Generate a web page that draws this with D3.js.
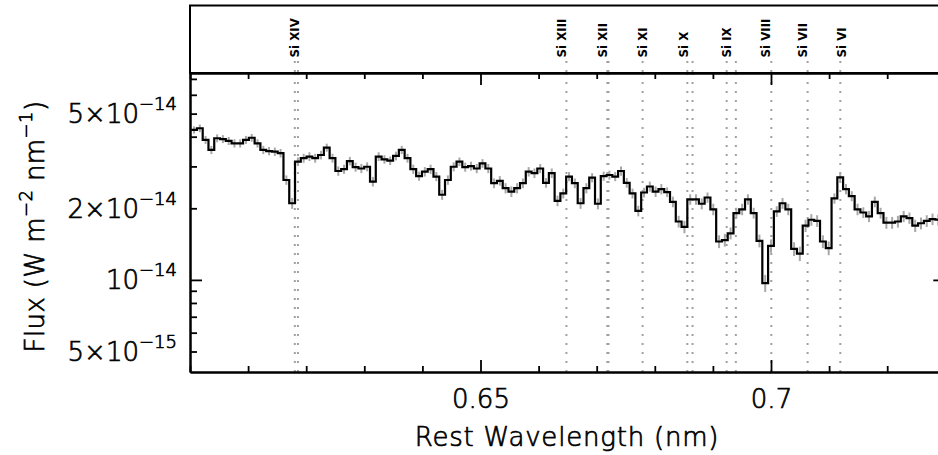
<!DOCTYPE html>
<html><head><meta charset="utf-8">
<script src="https://cdn.jsdelivr.net/npm/d3@7"></script>
<style>
body{margin:0;background:#fff}
svg{display:block}
.ax text, text.ttl{font-family:"DejaVu Sans",sans-serif;font-weight:200;fill:#000;stroke:#000;stroke-width:0.7px}
</style>
</head><body>
<svg id="c" width="938" height="455"></svg>
<script>
// ---------------- data ----------------
// binned spectrum: flux per bin, units of 1e-14 W m^-2 nm^-1
const binStart = 0.6002;      // nm, lower edge of first bin
const binWidth = 0.000993;    // nm
const flux = [
 4.27,4.34,3.88,3.52,3.94,3.91,3.84,3.75,3.75,3.88,
 3.96,3.75,3.52,3.48,3.46,3.41,2.63,2.10,3.14,3.25,
 3.30,3.25,3.35,3.60,3.25,2.87,2.92,3.16,2.98,2.94,
 2.99,2.59,3.30,3.21,3.17,3.32,3.52,3.25,2.92,2.73,
 2.85,2.92,2.72,2.28,2.63,2.99,3.14,2.98,3.01,2.94,
 3.09,2.94,2.55,2.61,2.43,2.35,2.43,2.55,2.85,2.81,
 2.94,2.56,2.81,2.15,2.31,2.72,2.55,2.10,2.43,2.69,
 2.09,2.73,2.76,2.72,2.87,2.56,2.31,1.95,2.33,2.47,
 2.35,2.41,2.34,2.13,1.76,1.67,2.18,2.18,2.09,2.22,
 1.98,1.45,1.47,1.57,1.91,1.98,2.18,1.91,1.46,0.97,
 1.39,1.94,2.10,1.98,1.35,1.29,1.69,1.79,1.77,1.45,
 1.36,2.20,2.70,2.41,2.25,1.98,1.92,1.85,2.13,1.91,
 1.74,1.74,1.76,1.85,1.82,1.69,1.73,1.77,1.80,1.79,
 1.62
];
const fluxErr = [
 0.15,0.16,0.15,0.14,0.15,0.15,0.15,0.15,0.15,0.15,
 0.15,0.15,0.14,0.14,0.14,0.14,0.12,0.11,0.13,0.14,
 0.14,0.14,0.14,0.14,0.14,0.13,0.13,0.13,0.13,0.13,
 0.13,0.12,0.14,0.13,0.13,0.14,0.14,0.14,0.13,0.12,
 0.13,0.13,0.12,0.11,0.12,0.13,0.13,0.13,0.13,0.13,
 0.13,0.13,0.12,0.12,0.12,0.12,0.12,0.12,0.13,0.13,
 0.13,0.12,0.13,0.11,0.11,0.12,0.12,0.11,0.12,0.12,
 0.11,0.12,0.12,0.12,0.13,0.12,0.11,0.10,0.11,0.12,
 0.12,0.12,0.11,0.11,0.10,0.10,0.11,0.11,0.11,0.11,
 0.11,0.09,0.09,0.09,0.10,0.11,0.11,0.10,0.09,0.08,
 0.09,0.10,0.11,0.11,0.09,0.09,0.10,0.10,0.10,0.09,
 0.09,0.11,0.12,0.12,0.11,0.11,0.10,0.10,0.11,0.10,
 0.10,0.10,0.10,0.10,0.10,0.10,0.10,0.10,0.10,0.10,
 0.10
];
const fluxUnit = 1e-14;

// ion identifications
const ionNames = ["Si XIV","Si XIII","Si XII","Si XI","Si X","Si IX","Si VIII","Si VII","Si VI"];
const ionLabelWave = [0.61807,0.66398,0.67103,0.67802,0.68503,0.69237,0.69914,0.70551,0.71217];
const lineWaves = [0.61804,0.61858,0.66479,0.67183,0.67203,0.67790,0.68560,0.68650,0.69237,0.69395,0.70005,0.70630,0.71193];

// axes
const xDomain = [0.60, 0.73];
const yDomain = [4.1e-15, 7.41e-14];
const xMajorTicks = [0.65, 0.70];
const xTickLabels = ["0.65", "0.7"];
const xMinorTicks = [0.60,0.61,0.62,0.63,0.64,0.66,0.67,0.68,0.69,0.71,0.72,0.73];
const yMajorTicks = [1e-14];
const yMinorTicks = [5e-15,6e-15,7e-15,8e-15,9e-15,2e-14,3e-14,4e-14,5e-14,6e-14,7e-14];
const yLabelTicks = [5e-15, 1e-14, 2e-14, 5e-14];
const yLabelMant = ["5\u00d7", "", "2\u00d7", "5\u00d7"];
const yLabelExp = ["\u221215", "\u221214", "\u221214", "\u221214"];
const xTitle = "Rest Wavelength (nm)";

// ---------------- layout ----------------
const X0 = 190, X1 = 945.3, YTOP = 5.5, YM = 73, YB = 372;
const svg = d3.select("#c");
const x = d3.scaleLinear().domain(xDomain).range([X0, X1]);
const y = d3.scaleLog().domain(yDomain).range([YB, YM]);

svg.append("defs").append("clipPath").attr("id","clip")
  .append("rect").attr("x",X0).attr("y",YM).attr("width",X1-X0).attr("height",YB-YM);

const edge = i => binStart + i*binWidth;
const centers = flux.map((f,i) => edge(i) + binWidth/2);

const plot = svg.append("g").attr("clip-path","url(#clip)");

// identification lines
plot.selectAll("line.id").data(lineWaves).join("line").attr("class","id")
  .attr("x1",d=>x(d)).attr("x2",d=>x(d)).attr("y1",YM).attr("y2",YB)
  .attr("stroke","#a0a0a0").attr("stroke-width",2).attr("stroke-dasharray","2 7");
svg.selectAll("line.idtop").data(lineWaves).join("line").attr("class","idtop")
  .attr("x1",d=>x(d)).attr("x2",d=>x(d)).attr("y1",61).attr("y2",YM)
  .attr("stroke","#a0a0a0").attr("stroke-width",2).attr("stroke-dasharray","2 7");

// error bars
plot.selectAll("line.err").data(flux).join("line").attr("class","err")
  .attr("x1",(d,i)=>x(centers[i])).attr("x2",(d,i)=>x(centers[i]))
  .attr("y1",(d,i)=>y((d-fluxErr[i])*fluxUnit)).attr("y2",(d,i)=>y((d+fluxErr[i])*fluxUnit))
  .attr("stroke","#a8a8a8").attr("stroke-width",2);

// histogram
const pts = flux.map((f,i)=>[edge(i), f]);
pts.push([edge(flux.length), flux[flux.length-1]]);
const step = d3.line().curve(d3.curveStepAfter).x(d=>x(d[0])).y(d=>y(d[1]*fluxUnit));
plot.append("path").attr("d",step(pts)).attr("fill","none")
  .attr("stroke","#000").attr("stroke-width",2.2).attr("stroke-linejoin","miter");

// ---------------- axes ----------------
function styleAxis(g){
  g.select(".domain").attr("stroke","#000").attr("stroke-width",2);
  g.selectAll(".tick line").attr("stroke","#000").attr("stroke-width",1.8);
}
// bottom
svg.append("g").attr("class","ax").attr("transform",`translate(0,${YB})`)
  .call(d3.axisBottom(x).tickValues(xMinorTicks).tickSize(-6).tickSizeOuter(0).tickFormat(""))
  .call(styleAxis);
const xb = svg.append("g").attr("class","ax").attr("transform",`translate(0,${YB})`)
  .call(d3.axisBottom(x).tickValues(xMajorTicks).tickSize(-12).tickSizeOuter(0).tickPadding(18)
    .tickFormat((d,i)=>xTickLabels[i]))
  .call(styleAxis);
xb.selectAll("text").attr("font-size",26);
// top of main panel
svg.append("g").attr("class","ax").attr("transform",`translate(0,${YM})`)
  .call(d3.axisTop(x).tickValues(xMinorTicks).tickSize(-6).tickSizeOuter(0).tickFormat(""))
  .call(styleAxis);
svg.append("g").attr("class","ax").attr("transform",`translate(0,${YM})`)
  .call(d3.axisTop(x).tickValues(xMajorTicks).tickSize(-12).tickSizeOuter(0).tickFormat(""))
  .call(styleAxis);
// left
svg.append("g").attr("class","ax").attr("transform",`translate(${X0},0)`)
  .call(d3.axisLeft(y).tickValues(yMinorTicks).tickSize(-7).tickSizeOuter(0).tickFormat(""))
  .call(styleAxis);
svg.append("g").attr("class","ax").attr("transform",`translate(${X0},0)`)
  .call(d3.axisLeft(y).tickValues(yMajorTicks).tickSize(-12).tickSizeOuter(0).tickFormat(""))
  .call(styleAxis);
const yl = svg.append("g").attr("class","ax").attr("transform",`translate(${X0},0)`)
  .call(d3.axisLeft(y).tickValues(yLabelTicks).tickSize(0).tickSizeOuter(0).tickPadding(13)
    .tickFormat(""));
yl.select(".domain").remove();
yl.selectAll(".tick text").each(function(d,i){
  const t = d3.select(this).attr("font-size",26).attr("dy","0.34em");
  t.append("tspan").text(yLabelMant[i] + "10");
  t.append("tspan").attr("font-size",18).attr("dy",-13).text(yLabelExp[i]);
});
// right
svg.append("g").attr("class","ax").attr("transform",`translate(${X1},0)`)
  .call(d3.axisRight(y).tickValues(yMinorTicks).tickSize(-7).tickSizeOuter(0).tickFormat(""))
  .call(styleAxis);
svg.append("g").attr("class","ax").attr("transform",`translate(${X1},0)`)
  .call(d3.axisRight(y).tickValues(yMajorTicks).tickSize(-12).tickSizeOuter(0).tickFormat(""))
  .call(styleAxis);

// top panel frame
svg.append("rect").attr("x",X0).attr("y",YTOP).attr("width",X1-X0).attr("height",YM-YTOP)
  .attr("fill","none").attr("stroke","#000").attr("stroke-width",2);

// ion labels (sized so that "Si XIII" is about 39 px long, as in the reference)
const ionG = svg.append("g");
const ionT = ionG.selectAll("text.ion").data(ionNames).join("text").attr("class","ion")
  .attr("transform",(d,i)=>`translate(${x(ionLabelWave[i])},57.5) rotate(-90)`)
  .attr("dominant-baseline","central")
  .attr("font-family","DejaVu Sans, sans-serif").attr("font-weight","bold").attr("font-size",13)
  .text(d=>d);
const refLen = ionT.filter(d=>d==="Si XIII").node().getComputedTextLength();
const fs = Math.max(9, Math.min(16, 13*39/refLen));
ionT.attr("font-size",fs);

// titles
svg.append("text").attr("class","ttl")
  .attr("x",567).attr("y",446).attr("text-anchor","middle")
  .attr("font-size",26).attr("letter-spacing",0.8)
  .text(xTitle);
const yt = svg.append("text").attr("class","ttl")
  .attr("transform",`translate(44,${(YM+YB)/2+4}) rotate(-90)`).attr("text-anchor","middle")
  .attr("font-size",26).attr("letter-spacing",0.4);
yt.append("tspan").text("Flux (W m");
yt.append("tspan").attr("font-size",18).attr("dy",-12).text("\u22122");
yt.append("tspan").attr("dy",12).text(" nm");
yt.append("tspan").attr("font-size",18).attr("dy",-12).text("\u22121");
yt.append("tspan").attr("dy",12).text(")");
</script>
</body></html>
